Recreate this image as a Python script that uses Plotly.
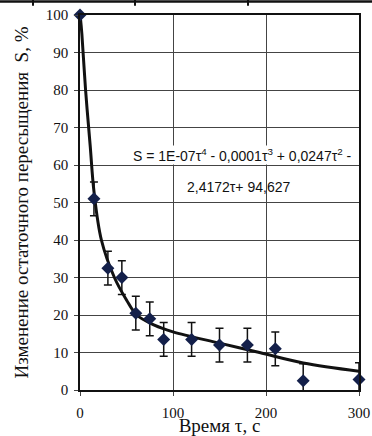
import plotly.graph_objects as go

tau = [0, 15, 30, 45, 60, 75, 90, 120, 150, 180, 210, 240, 300]
S = [100, 51, 32.5, 30, 20.5, 19, 13.5, 13.5, 12, 12, 11, 2.5, 2.8]
err = [0, 4.5, 4.5, 4.5, 4.5, 4.5, 4.5, 4.5, 4.5, 4.5, 4.5, 4.5, 4.5]

trend_tau = [0.5, 2, 6, 11, 15, 23, 37, 50, 61, 80, 100, 150, 193, 240, 300]
trend_S = [99, 95, 80, 65, 53, 40, 30, 24, 20, 17.3, 15.5, 12.5, 10, 7.2, 5]

x_ticks = [0, 100, 200, 300]
y_ticks = [0, 10, 20, 30, 40, 50, 60, 70, 80, 90, 100]

SERIF = "Liberation Serif, Times New Roman, serif"
SANS = "Liberation Sans, Arial, sans-serif"

fig = go.Figure()
fig.add_trace(go.Scatter(
    x=trend_tau, y=trend_S, mode="lines",
    line=dict(color="#111111", width=3, shape="spline"),
    cliponaxis=False, showlegend=False, hoverinfo="skip"))
fig.add_trace(go.Scatter(
    x=tau, y=S, mode="markers",
    marker=dict(symbol="diamond", size=10, color="#14204a"),
    error_y=dict(type="data", array=err, color="#111111", thickness=1.5, width=4),
    cliponaxis=False, showlegend=False))

fig.add_annotation(x=0.584, y=0.627, xref="paper", yref="paper",
                   text="S = 1E-07τ<sup>4</sup> - 0,0001τ<sup>3</sup> + 0,0247τ<sup>2</sup> -",
                   showarrow=False, bgcolor="white", borderpad=0,
                   font=dict(family=SANS, size=14, color="#111111"))
fig.add_annotation(x=0.376, y=0.542, xref="paper", yref="paper", xanchor="left",
                   text="2,4172τ+ 94,627", showarrow=False,
                   font=dict(family=SANS, size=14, color="#111111"))

# cut-off table border at the top of the image
shapes = [dict(type="line", xref="paper", yref="paper", x0=-0.29, x1=1.05,
               y0=1.036, y1=1.036, line=dict(color="#111111", width=2.5))]
for px in [33, 135, 248]:
    xp = (px - 80) / 279
    shapes.append(dict(type="line", xref="paper", yref="paper", x0=xp, x1=xp,
                       y0=1.04, y1=1.025, line=dict(color="#111111", width=2)))
fig.update_layout(shapes=shapes)

fig.update_layout(
    width=372, height=436,
    margin=dict(l=80, r=13, t=15, b=46),
    paper_bgcolor="white", plot_bgcolor="white",
    font=dict(family=SERIF, color="#111111"),
    xaxis=dict(range=[0, 300], tickvals=x_ticks, ticks="outside", ticklen=4,
               tickfont=dict(family=SERIF, size=15), showgrid=True, gridcolor="#444444", gridwidth=1,
               showline=True, linecolor="#111111", linewidth=1.5, mirror=True, zeroline=False,
               automargin=False, ticklabelstandoff=4,
               title=dict(text="Время τ, с", font=dict(family=SERIF, size=19), standoff=2)),
    yaxis=dict(range=[0, 100], tickvals=y_ticks, ticks="outside", ticklen=4,
               tickfont=dict(family=SERIF, size=15), showgrid=True, gridcolor="#444444", gridwidth=1,
               showline=True, linecolor="#111111", linewidth=1.5, mirror=True, zeroline=False,
               automargin=False, ticklabelstandoff=3,
               title=dict(text="Изменение остаточного пересыщения  S, %", font=dict(family=SERIF, size=19), standoff=12)),
)

fig.write_html("out.html", config={"displayModeBar": False},
               post_script="document.body.style.margin='0';")
